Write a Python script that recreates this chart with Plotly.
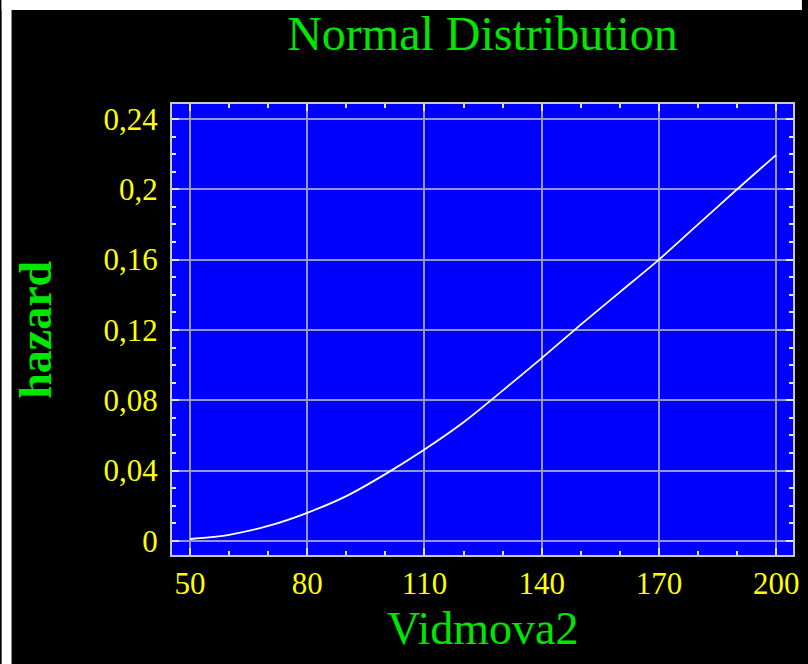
import plotly.graph_objects as go

# Data
vidmova2 = [50, 60, 70, 80, 90, 100, 110, 120, 130, 140, 150, 160, 170, 180, 190, 200]
hazard = [0.0011, 0.0035, 0.0085, 0.0160, 0.0255, 0.0380, 0.0520, 0.0675, 0.0855,
          0.1040, 0.1230, 0.1415, 0.1600, 0.1800, 0.2000, 0.2196]

x_ticks = [50, 80, 110, 140, 170, 200]
x_ticktext = ["50", "80", "110", "140", "170", "200"]
y_ticks = [0, 0.04, 0.08, 0.12, 0.16, 0.20, 0.24]
y_ticktext = ["0", "0,04", "0,08", "0,12", "0,16", "0,2", "0,24"]

GREEN = "#00e600"
YELLOW = "#ffff00"
FONT = "Liberation Serif"

W, H = 808, 664
L, R, T, B = 172, 9, 104, 109
PW, PH = W - L - R, H - T - B


def px_x(p):
    return (p - L) / PW


def px_y(p):
    return (H - B - p) / PH


fig = go.Figure()
fig.add_trace(go.Scatter(x=vidmova2, y=hazard, mode="lines",
                         line=dict(color="#ffffff", width=1.8, shape="spline", smoothing=0.8),
                         showlegend=False, hoverinfo="skip"))

fig.update_layout(
    width=W, height=H,
    paper_bgcolor="#000000", plot_bgcolor="#0000fe",
    margin=dict(l=L, r=R, t=T, b=B),
    title=dict(text="Normal Distribution", x=0.5, xref="paper", xanchor="center",
               y=1 - 33 / H, yref="container", yanchor="middle",
               font=dict(family=FONT, size=48, color=GREEN)),
    shapes=[
        dict(type="rect", xref="paper", yref="paper", layer="below",
             x0=px_x(0), x1=px_x(W), y0=px_y(0), y1=px_y(10),
             fillcolor="#ffffff", line=dict(width=0)),
        dict(type="rect", xref="paper", yref="paper", layer="below",
             x0=px_x(0), x1=px_x(10), y0=px_y(0), y1=px_y(H),
             fillcolor="#ffffff", line=dict(width=0)),
    ],
    annotations=[
        dict(text="Vidmova2", xref="paper", yref="paper", x=0.5, y=px_y(628),
             xanchor="center", yanchor="middle", showarrow=False,
             font=dict(family=FONT, size=46, color=GREEN)),
        dict(text="<b>hazard</b>", xref="paper", yref="paper", x=px_x(33.5), y=px_y(330),
             xanchor="center", yanchor="middle", showarrow=False, textangle=-90,
             font=dict(family=FONT, size=46, color=GREEN)),
    ],
)

fig.update_xaxes(
    range=[45.4, 204.3], tickvals=x_ticks, ticktext=x_ticktext,
    tickfont=dict(family=FONT, size=31, color=YELLOW),
    showgrid=True, gridcolor="#9696d0", gridwidth=1.5,
    zeroline=False, showline=True, linecolor="#c8c8c8", linewidth=2, mirror="ticks",
    ticks="inside", ticklen=7, tickcolor="#e8e8e8", tickwidth=1.5,
    minor=dict(dtick=10, tick0=50, ticks="inside", ticklen=4, tickcolor="#e8e8e8",
               tickwidth=1.5, showgrid=False),
)
fig.update_yaxes(
    range=[-0.008, 0.2485], tickvals=y_ticks, ticktext=y_ticktext,
    tickfont=dict(family=FONT, size=31, color=YELLOW),
    showgrid=True, gridcolor="#9696d0", gridwidth=1.5,
    zeroline=False, showline=True, linecolor="#c8c8c8", linewidth=2, mirror="ticks",
    ticks="inside", ticklen=7, tickcolor="#e8e8e8", tickwidth=1.5,
    ticklabelstandoff=6,
    minor=dict(dtick=0.01, tick0=0, ticks="inside", ticklen=4, tickcolor="#e8e8e8",
               tickwidth=1.5, showgrid=False),
)

fig.write_html("out.html")
